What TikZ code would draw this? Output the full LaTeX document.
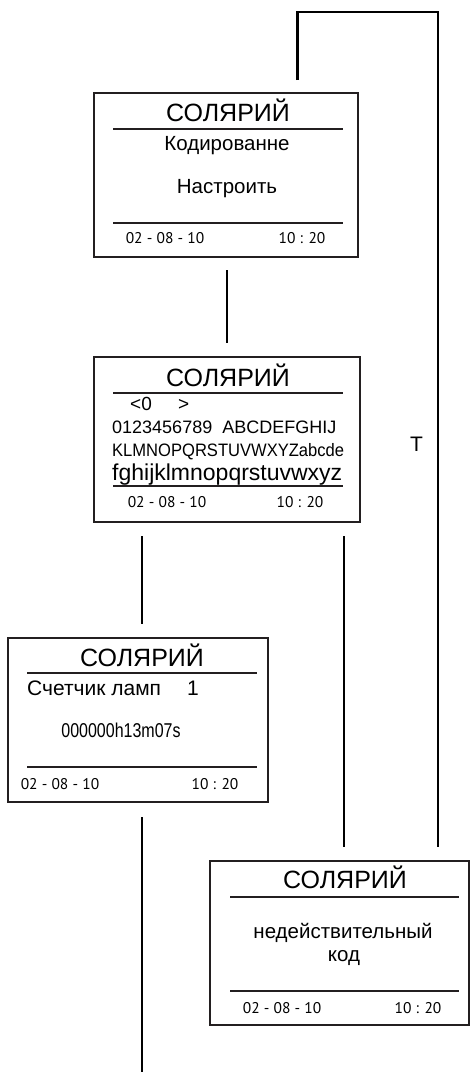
\documentclass[tikz,border=0pt]{standalone}
\usepackage{fontspec}
\setmainfont{Liberation Sans}
\newfontfamily\datefont{PT Sans}
\definecolor{framecol}{HTML}{231F20}
\newcommand\fs[1]{\fontsize{#1}{#1}\selectfont}
\begin{document}
\begin{tikzpicture}[x=1pt,y=-1pt,
  box/.style={draw=framecol, line width=1.5pt, inner sep=0pt, fill=none},
  sepline/.style={draw=framecol, line width=1.3pt},
  conn/.style={draw=black, line width=2.6pt},
  txt/.style={inner sep=0pt, anchor=base},
  ltxt/.style={inner sep=0pt, anchor=base west},
  title/.style={txt, font=\fs{25}},
  body/.style={txt, font=\fs{20.5}},
  date/.style={txt, font=\datefont\fs{15.5}}]
\useasboundingbox (0,0) rectangle (471,1072);

% boxes
\node[box, minimum width=264pt, minimum height=164pt] (b1) at (226,175) {};
\node[box, minimum width=266pt, minimum height=165pt] (b2) at (227,439.5) {};
\node[box, minimum width=260pt, minimum height=164pt] (b3) at (138,720) {};
\node[box, minimum width=259pt, minimum height=164pt] (b4) at (339.5,943) {};

% separator lines
\draw[sepline] (113,129) -- (343,129);
\draw[sepline] (113,223) -- (343,223);
\draw[sepline] (113,393) -- (343,393);
\draw[sepline] (113,486) -- (343,486);
\draw[sepline] (27,673) -- (257,673);
\draw[sepline] (27,767) -- (257,767);
\draw[sepline] (230,897) -- (459,897);
\draw[sepline] (230,991) -- (459,991);

% box 1
\node[title] (t1) at (228,121) {СОЛЯРИЙ};
\node[body] (k1) at (227,150) {Кодированне};
\node[body] (n1) at (227,193) {Настроить};
\node[date] (d1) at (165,243) {02 - 08 - 10};
\node[date] (h1) at (302,243) {10 : 20};

% box 2
\node[title] (t2) at (228,386) {СОЛЯРИЙ};
\node[ltxt, font=\fs{19}] (l2a) at (130,410) {<0};
\node[ltxt, font=\fs{19}] (l2b) at (178,410) {>};
\node[ltxt, font=\fs{18}] (l2c) at (112,433) {0123456789\ \ ABCDEFGHIJ};
\node[ltxt, font=\fs{18}] (l2d) at (112,456) {\scalebox{0.92}[1]{KLMNOPQRSTUVWXYZabcde}};
\node[ltxt, font=\fs{23}] (l2e) at (112,480) {fghijklmnopqrstuvwxyz};
\node[date] (d2) at (167,507) {02 - 08 - 10};
\node[date] (h2) at (300,507) {10 : 20};

% box 3
\node[title] (t3) at (142,666) {СОЛЯРИЙ};
\node[ltxt, font=\fs{21}] (c3) at (27,695) {Счетчик ламп};
\node[ltxt, font=\fs{21}] (c3n) at (187,695) {1};
\node[txt, font=\fs{20}] (z3) at (121,737) {\scalebox{0.8}[1]{000000h13m07s}};
\node[date] (d3) at (60,789) {02 - 08 - 10};
\node[date] (h3) at (215,789) {10 : 20};

% box 4
\node[title] (t4) at (345,888) {СОЛЯРИЙ};
\node[body] (n4) at (343,938) {недействительный};
\node[body] (k4) at (344,961) {код};
\node[date] (d4) at (282,1013) {02 - 08 - 10};
\node[date] (h4) at (418,1013) {10 : 20};

% connectors
\coordinate (p1) at (297.5,80);
\coordinate (p2) at (297.5,12);
\coordinate (p3) at (438,12);
\coordinate (p4) at (438,847);
\draw[conn, line join=miter] (p1) -- (p2) -- (p3) -- (p4);

\coordinate (q1) at (227,270);
\coordinate (q2) at (227,343);
\draw[conn] (q1) -- (q2);

\coordinate (r1) at (142,536);
\coordinate (r2) at (142,624);
\draw[conn] (r1) -- (r2);

\coordinate (s1) at (344,536);
\coordinate (s2) at (344,847);
\draw[conn] (s1) -- (s2);

\coordinate (u1) at (142,817);
\coordinate (u2) at (142,1072);
\draw[conn] (u1) -- (u2);

\node[txt, font=\fs{21}] (tlabel) at (416.5,451) {T};
\end{tikzpicture}
\end{document}
